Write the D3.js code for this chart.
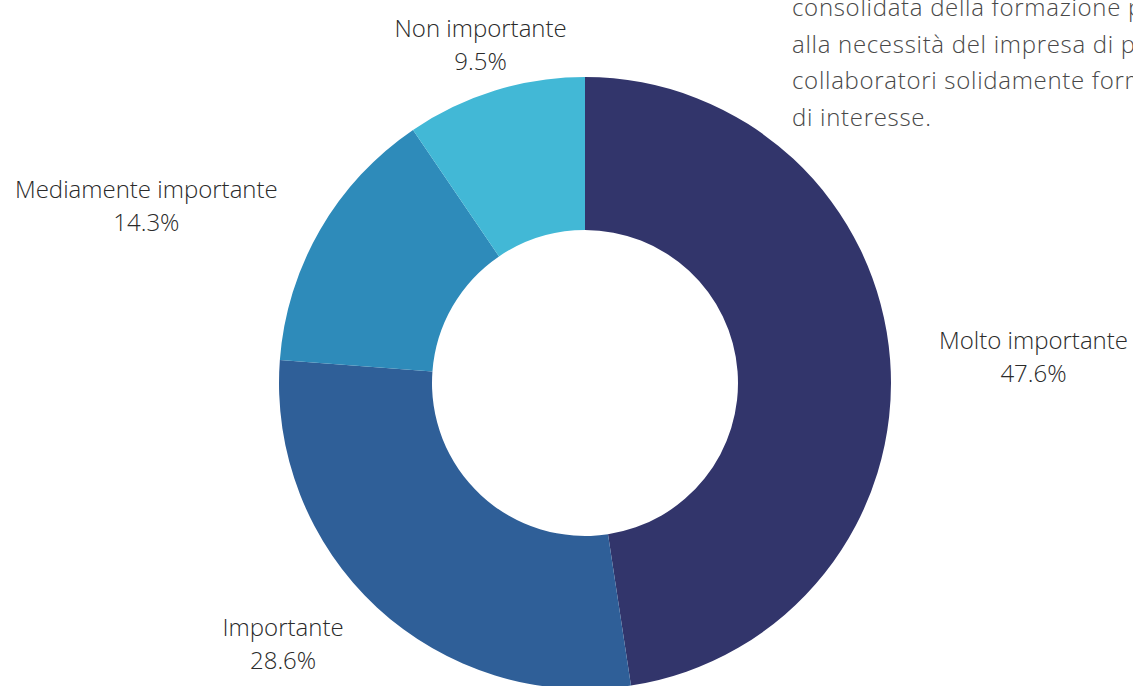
<!DOCTYPE html>
<html>
<head>
<meta charset="utf-8">
<script src="https://cdn.jsdelivr.net/npm/d3@7"></script>
<style>
  html, body { margin: 0; padding: 0; background: #fff; overflow: hidden; }
  svg { display: block; font-family: "Open Sans", sans-serif; }
</style>
</head>
<body>
<div id="chart"></div>
<script>
// categories, values (percent) and slice colours, clockwise from 12 o'clock
var categories = ['Molto importante', 'Importante', 'Mediamente importante', 'Non importante'];
var values = [47.6, 28.6, 14.3, 9.5];
var colors = ['#32356b', '#2f5f98', '#2e8bba', '#42b8d6'];

// paragraph fragment that runs off the top right of the page
var noteLines = [
  'consolidata della formazione professionale',
  'alla necessità del impresa di poter contare su',
  'collaboratori solidamente formati negli ambiti',
  'di interesse.'
];

var width = 1133;
var height = 686;
var cx = 585;
var cy = 383;
var outerRadius = 306;
var innerRadius = 153;
var labelRadius = 355;
var labelFontSize = 24;
var lineGap = 33;

var data = categories.map(function(c, i) {
  return { name: c, value: values[i], color: colors[i] };
});

var svg = d3.select('#chart').append('svg')
  .attr('width', width)
  .attr('height', height);

var g = svg.append('g')
  .attr('transform', 'translate(' + cx + ',' + cy + ')');

var pie = d3.pie()
  .sort(null)
  .value(function(d) { return d.value; });

var arc = d3.arc()
  .innerRadius(innerRadius)
  .outerRadius(outerRadius);

var labelArc = d3.arc()
  .innerRadius(labelRadius)
  .outerRadius(labelRadius);

var arcs = pie(data);

g.selectAll('path.slice')
  .data(arcs)
  .enter().append('path')
  .attr('class', 'slice')
  .attr('d', arc)
  .attr('fill', function(d) { return d.data.color; });

var format = d3.format('.1f');

g.selectAll('g.label')
  .data(arcs)
  .enter().append('g')
  .attr('class', 'label')
  .each(function(d) {
    var mid = (d.startAngle + d.endAngle) / 2;
    var s = Math.sin(mid);
    var pos = labelArc.centroid(d);
    var el = d3.select(this);

    var t1 = el.append('text')
      .attr('text-anchor', 'middle')
      .attr('y', -lineGap / 2)
      .attr('dy', '0.4em')
      .style('font-size', labelFontSize + 'px')
      .style('font-weight', 300)
      .attr('fill', '#2a2a2a')
      .text(d.data.name);

    el.append('text')
      .attr('text-anchor', 'middle')
      .attr('y', lineGap / 2)
      .attr('dy', '0.4em')
      .style('font-size', labelFontSize + 'px')
      .style('font-weight', 300)
      .attr('fill', '#2a2a2a')
      .text(format(d.data.value) + '%');

    // push the label block outwards on the side it sits on
    var w = t1.node().getComputedTextLength();
    var shift = Math.abs(s) < 0.35 ? 0 : (s > 0 ? 1 : -1) * w / 2;
    el.attr('transform', 'translate(' + (pos[0] + shift) + ',' + pos[1] + ')');
  });

svg.append('g')
  .selectAll('text')
  .data(noteLines)
  .enter().append('text')
  .attr('x', 792)
  .attr('y', function(d, i) { return 16 + i * 36.5; })
  .style('font-size', '24px')
  .style('font-weight', 300)
  .style('letter-spacing', '0.7px')
  .attr('fill', '#484848')
  .text(function(d) { return d; });
</script>
</body>
</html>
